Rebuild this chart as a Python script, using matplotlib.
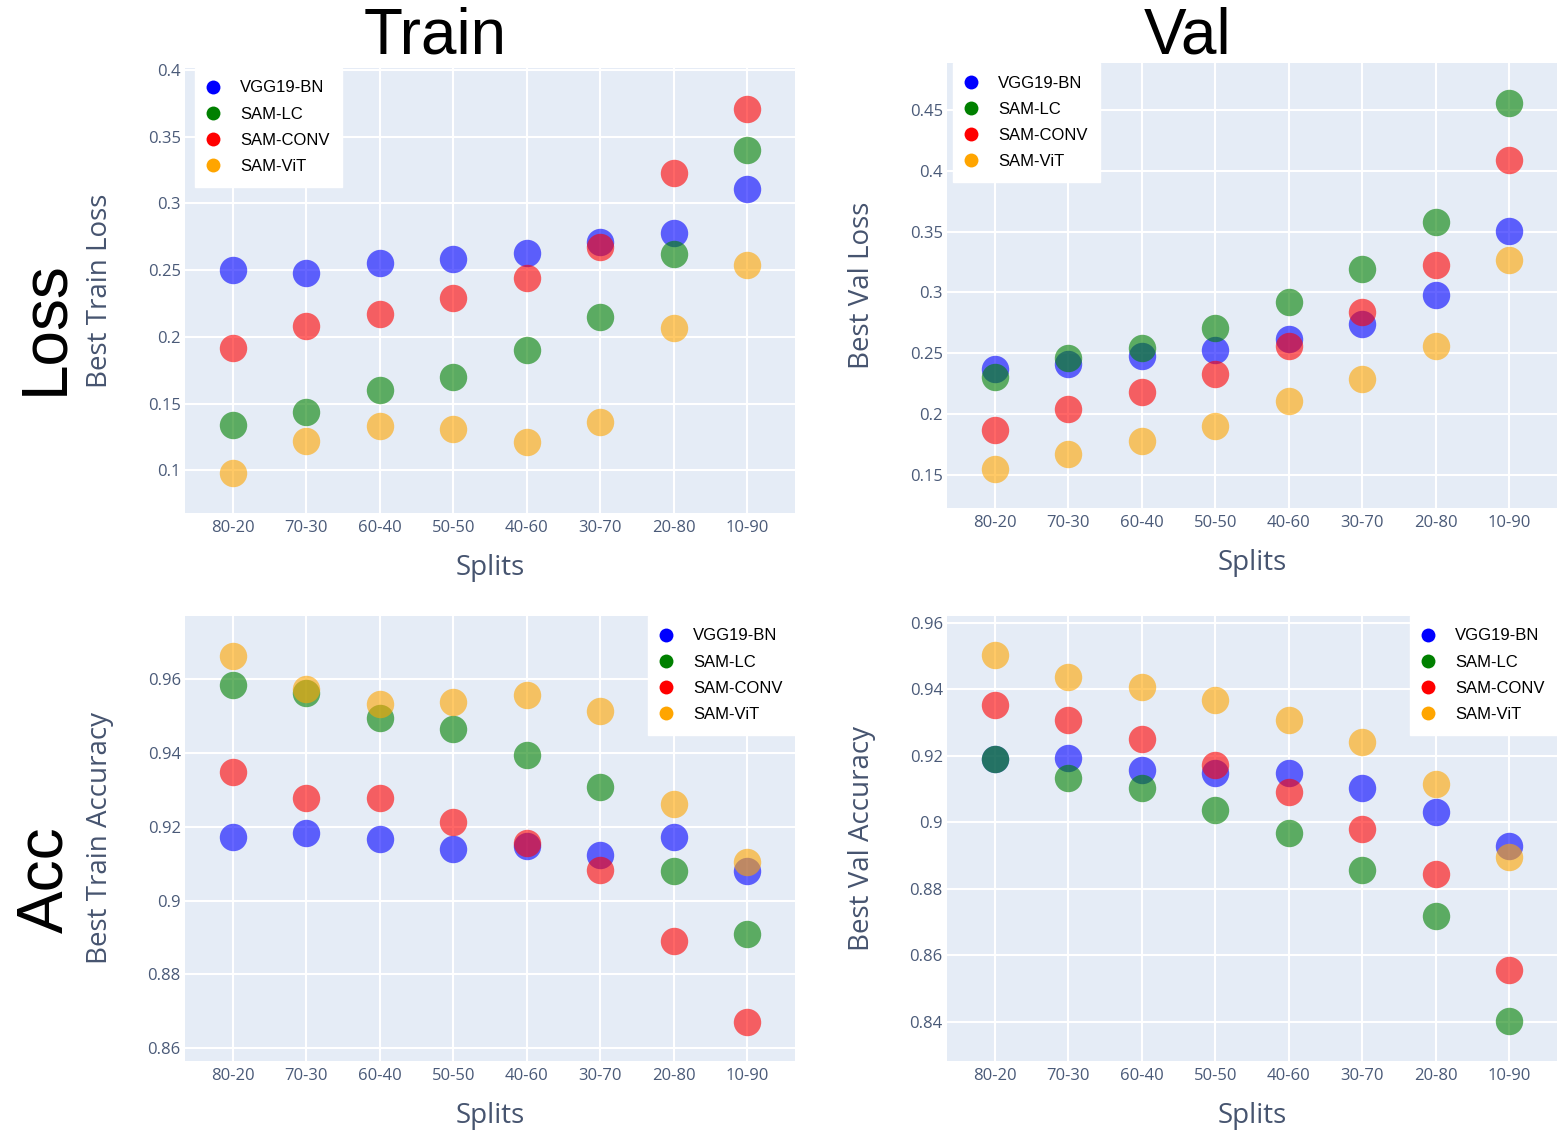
import matplotlib
matplotlib.use("Agg")
import matplotlib.pyplot as plt
from matplotlib.lines import Line2D

splits = ["80-20", "70-30", "60-40", "50-50", "40-60", "30-70", "20-80", "10-90"]
models = ["VGG19-BN", "SAM-LC", "SAM-CONV", "SAM-ViT"]
colors = ["#0000ff", "#008000", "#ff0000", "#ffa500"]

# best train loss per split
train_loss_vgg = [0.250, 0.248, 0.255, 0.258, 0.263, 0.271, 0.278, 0.311]
train_loss_lc = [0.134, 0.144, 0.160, 0.170, 0.190, 0.215, 0.262, 0.340]
train_loss_conv = [0.192, 0.208, 0.217, 0.229, 0.244, 0.267, 0.323, 0.371]
train_loss_vit = [0.098, 0.122, 0.133, 0.131, 0.121, 0.136, 0.207, 0.254]

# best val loss per split
val_loss_vgg = [0.237, 0.241, 0.248, 0.253, 0.262, 0.274, 0.298, 0.351]
val_loss_lc = [0.230, 0.246, 0.254, 0.271, 0.292, 0.319, 0.358, 0.456]
val_loss_conv = [0.187, 0.204, 0.218, 0.233, 0.256, 0.284, 0.323, 0.409]
val_loss_vit = [0.155, 0.167, 0.178, 0.190, 0.211, 0.229, 0.256, 0.327]

# best train accuracy per split
train_acc_vgg = [0.9173, 0.9184, 0.9166, 0.9141, 0.9148, 0.9125, 0.9173, 0.9081]
train_acc_lc = [0.9585, 0.9562, 0.9494, 0.9465, 0.9396, 0.9309, 0.9081, 0.8909]
train_acc_conv = [0.9348, 0.9277, 0.9277, 0.9212, 0.9157, 0.9082, 0.8891, 0.8672]
train_acc_vit = [0.9664, 0.9574, 0.9533, 0.9539, 0.9559, 0.9515, 0.9262, 0.9105]

# best val accuracy per split
val_acc_vgg = [0.9190, 0.9194, 0.9157, 0.9147, 0.9147, 0.9102, 0.9032, 0.8929]
val_acc_lc = [0.9190, 0.9132, 0.9102, 0.9037, 0.8968, 0.8856, 0.8718, 0.8402]
val_acc_conv = [0.9352, 0.9307, 0.9249, 0.9172, 0.9092, 0.8979, 0.8846, 0.8557]
val_acc_vit = [0.9503, 0.9438, 0.9407, 0.9369, 0.9309, 0.9242, 0.9115, 0.8896]

W, H = 1557, 1130
fig = plt.figure(figsize=(W / 100, H / 100), dpi=100)
fig.patch.set_facecolor("white")

BG = "#e5ecf6"
TICK = "#4a5a78"
TITLE = "#46546f"


def box(x0, y0, x1, y1):
    return [x0 / W, 1 - y1 / H, (x1 - x0) / W, (y1 - y0) / H]


def panel(rect, series, ylim, yticks, ylabel, leg_loc, leg_anchor):
    ax = fig.add_axes(rect)
    ax.set_facecolor(BG)
    xs = range(len(splits))
    for vals, c in zip(series, colors):
        ax.scatter(xs, vals, s=390, color=c, alpha=0.6, linewidths=0, zorder=3)
    ax.set_xlim(-0.65, len(splits) - 0.35)
    ax.set_ylim(*ylim)
    ax.set_xticks(list(xs))
    ax.set_xticklabels(splits)
    ax.set_yticks(yticks)
    ax.set_yticklabels([f"{t:g}" for t in yticks])
    ax.grid(True, color="white", linewidth=1.5, zorder=0)
    ax.set_axisbelow(True)
    for s in ax.spines.values():
        s.set_visible(False)
    ax.tick_params(length=0, labelsize=12, labelcolor=TICK, pad=5)
    ax.tick_params(axis="y", pad=3)
    for lab in ax.get_xticklabels() + ax.get_yticklabels():
        lab.set_fontfamily("Open Sans")
    handles = [Line2D([], [], marker="o", linestyle="", markersize=10,
                      markerfacecolor=c, markeredgewidth=0) for c in colors]
    leg = ax.legend(handles, models, loc=leg_loc, bbox_to_anchor=leg_anchor,
                    frameon=True, fancybox=False, borderaxespad=0,
                    prop={"family": "Liberation Sans", "size": 12},
                    labelspacing=0.67, handletextpad=1.35, borderpad=0.75,
                    handlelength=0.6)
    leg.get_frame().set_facecolor("white")
    leg.get_frame().set_edgecolor("white")
    leg.get_frame().set_alpha(1)
    leg.set_zorder(5)
    # axis titles
    pos = ax.get_position()
    fig.text(pos.x0 - 85 / W, pos.y0 + pos.height / 2, ylabel, rotation=90,
             ha="center", va="center", fontsize=20, color=TITLE,
             family="Open Sans")
    fig.text(pos.x0 + pos.width / 2, pos.y0 - 55 / H, "Splits",
             ha="center", va="center", fontsize=20, color=TITLE,
             family="Open Sans")
    return ax


panel(box(185, 68, 795, 513),
      [train_loss_vgg, train_loss_lc, train_loss_conv, train_loss_vit],
      (0.068, 0.4015), [0.1, 0.15, 0.2, 0.25, 0.3, 0.35, 0.4],
      "Best Train Loss", "upper left", (10 / 610, 1.0))

panel(box(947, 63, 1557, 508),
      [val_loss_vgg, val_loss_lc, val_loss_conv, val_loss_vit],
      (0.1225, 0.489), [0.15, 0.2, 0.25, 0.3, 0.35, 0.4, 0.45],
      "Best Val Loss", "upper left", (6 / 610, 1.0))

panel(box(185, 616, 795, 1061),
      [train_acc_vgg, train_acc_lc, train_acc_conv, train_acc_vit],
      (0.8565, 0.9772), [0.86, 0.88, 0.9, 0.92, 0.94, 0.96],
      "Best Train Accuracy", "upper right", (1.0, 1.0))

panel(box(947, 616, 1557, 1061),
      [val_acc_vgg, val_acc_lc, val_acc_conv, val_acc_vit],
      (0.8283, 0.962), [0.84, 0.86, 0.88, 0.9, 0.92, 0.94, 0.96],
      "Best Val Accuracy", "upper right", (1.0, 1.0))

# column and row headers
big = {"family": "Liberation Sans", "fontsize": 46, "color": "black"}
fig.text(435 / W, 1 - 36 / H, "Train", ha="center", va="center", **big)
fig.text(1188 / W, 1 - 36 / H, "Val", ha="center", va="center", **big)
fig.text(45 / W, 1 - 328 / H, "Loss", ha="center", va="center", rotation=90, **big)
fig.text(45 / W, 1 - 880 / H, "Acc", ha="center", va="center", rotation=90, **big)

fig.savefig("out.png", dpi=100)
